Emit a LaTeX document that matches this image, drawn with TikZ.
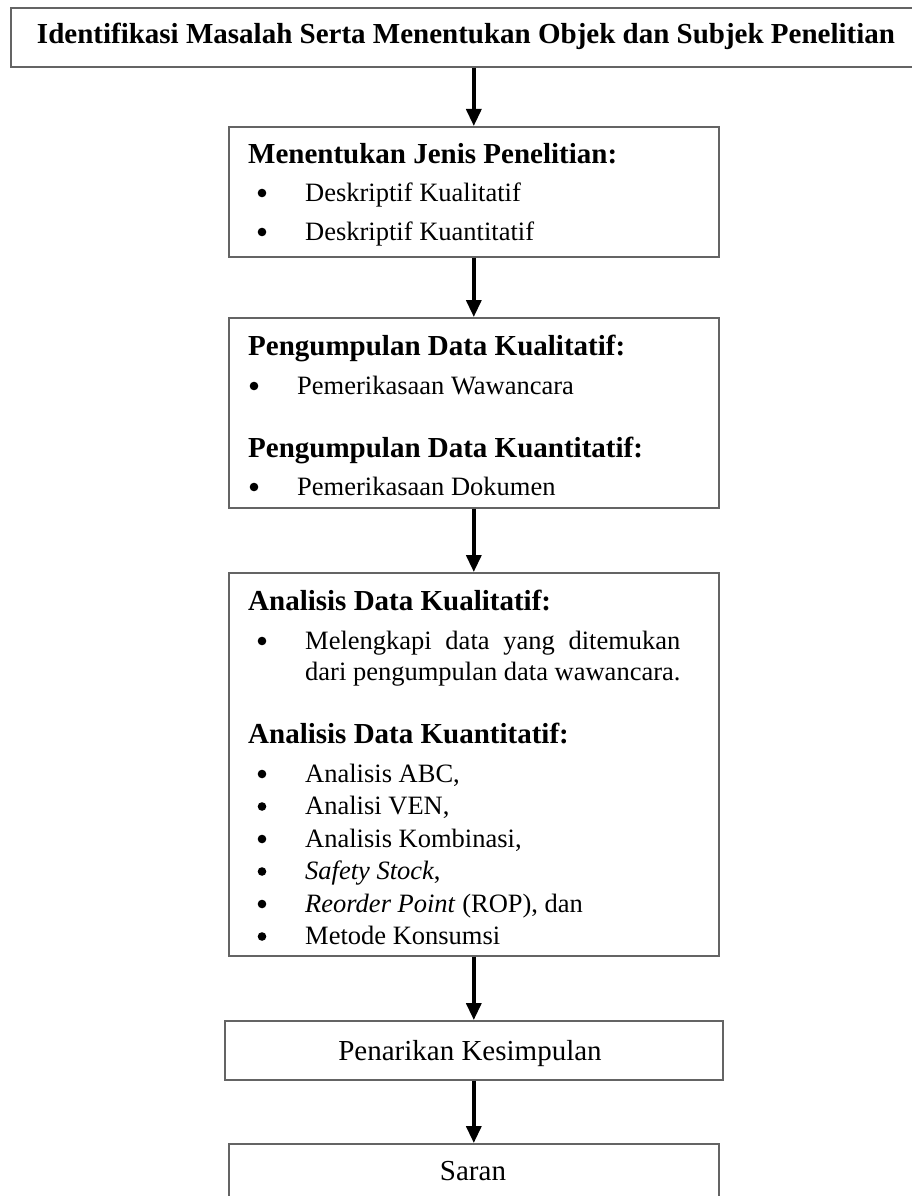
\documentclass[tikz,border=0pt]{standalone}
\usepackage{fontspec}
\setmainfont{Liberation Serif}
\usetikzlibrary{arrows.meta}
\definecolor{boxgray}{RGB}{100,100,100}
\newcommand{\bulat}[1]{\fill (#1.base west) ++(-43,-8) circle (4.3pt);}
\newlength{\parw}
\begin{document}
\settowidth{\parw}{\fontsize{26.5}{31}\selectfont dari pengumpulan data wawancara.}%
\begin{tikzpicture}[x=1pt,y=-1pt,
  box/.style={draw=boxgray, line width=1.6pt},
  head/.style={font=\fontsize{29}{34}\selectfont\bfseries, inner sep=0pt, anchor=base west},
  body/.style={font=\fontsize{26.5}{31}\selectfont, inner sep=0pt, anchor=base west},
  big/.style={font=\fontsize{29}{34}\selectfont, inner sep=0pt, anchor=base},
  arr/.style={line width=3.5pt, -{Triangle[width=15pt,length=17pt]}},
]
\useasboundingbox[fill=white] (0,0) rectangle (912,1196);
% boxes
\node[box, anchor=north west, minimum width=940pt, minimum height=59pt] (b1) at (10,7) {};
\node[box, anchor=north west, minimum width=490pt, minimum height=130pt] (b2) at (228,126) {};
\node[box, anchor=north west, minimum width=490pt, minimum height=190pt] (b3) at (228,317) {};
\node[box, anchor=north west, minimum width=490pt, minimum height=383pt] (b4) at (228,572) {};
\node[box, anchor=north west, minimum width=498pt, minimum height=59pt] (b5) at (224,1020) {};
\node[box, anchor=north west, minimum width=490pt, minimum height=90pt] (b6) at (228,1143) {};
% arrows
\draw[arr] (b1.south -| b2.north) -- (b2.north);
\draw[arr] (b2.south) -- (b3.north);
\draw[arr] (b3.south) -- (b4.north);
\draw[arr] (b4.south) -- (b4.south |- b5.north);
\draw[arr] (b5.south -| b6.north) -- (b6.north);
% title
\node[big, font=\fontsize{29}{34}\selectfont\bfseries] (t1) at (466,44) {Identifikasi Masalah Serta Menentukan Objek dan Subjek Penelitian};
% box 2
\node[head] (h2) at (248,163) {Menentukan Jenis Penelitian:};
\node[body] (i21) at (305,201) {Deskriptif Kualitatif};
\node[body] (i22) at (305,240) {Deskriptif Kuantitatif};
% box 3
\node[head] (h31) at (248,355) {Pengumpulan Data Kualitatif:};
\node[body] (i31) at (297,394) {Pemerikasaan Wawancara};
\node[head] (h32) at (248,457) {Pengumpulan Data Kuantitatif:};
\node[body] (i32) at (297,495) {Pemerikasaan Dokumen};
% box 4
\node[head] (h41) at (248,610) {Analisis Data Kualitatif:};
\node[body] (p1) at (305,649) {\makebox[\parw][s]{Melengkapi data yang ditemukan}};
\node[body] (p2) at (305,680) {dari pengumpulan data wawancara.};
\node[head] (h42) at (248,743) {Analisis Data Kuantitatif:};
\node[body] (i41) at (305,782) {Analisis ABC,};
\node[body] (i42) at (305,814.5) {Analisi VEN,};
\node[body] (i43) at (305,847) {Analisis Kombinasi,};
\node[body] (i44) at (305,879.5) {\textit{Safety Stock},};
\node[body] (i45) at (305,912) {\textit{Reorder Point} (ROP), dan};
\node[body] (i46) at (305,944.5) {Metode Konsumsi};
% bullets
\foreach \n in {i21,i22,i31,i32,p1,i41,i42,i43,i44,i45,i46} {\bulat{\n}}
% box 5, 6
\node[big] (t5) at (470,1060) {Penarikan Kesimpulan};
\node[big] (t6) at (473,1180) {Saran};
\end{tikzpicture}
\end{document}
